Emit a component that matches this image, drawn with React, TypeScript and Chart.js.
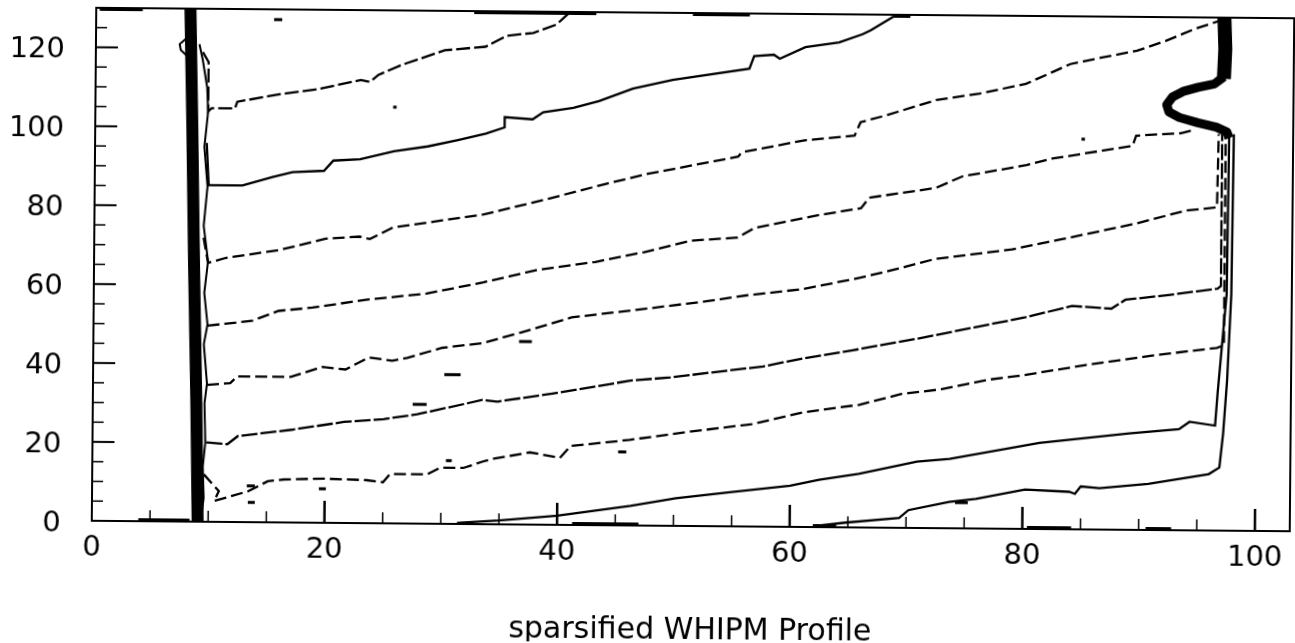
import React, { useEffect, useRef } from "react";
import { Chart, registerables } from "chart.js";

Chart.register(...registerables);

// ---- axis ticks / labels ----
const xTickValues = [0, 20, 40, 60, 80, 100];
const xTickLabels = ["0", "20", "40", "60", "80", "100"];
const yTickValues = [0, 20, 40, 60, 80, 100, 120];
const yTickLabels = ["0", "20", "40", "60", "80", "100", "120"];
const xMinorTicks = [5, 10, 15, 25, 30, 35, 45, 50, 55, 65, 70, 75, 85, 90, 95];
const yMinorTicks = [5, 10, 15, 25, 30, 35, 45, 50, 55, 65, 70, 75, 85, 90, 95, 105, 110, 115, 125];
const xTitle = "sparsified WHIPM Profile";

// ---- contour lines (x, y) ----
const contour1 = [[9.2, 119], [9.7, 116.5], [9.7, 104], [10, 104.8], [12, 104.8], [12.2, 106.5], [16, 108.6], [19, 109.8], [22.8, 112.3], [23.6, 111.8], [24.3, 113.6], [26.3, 116.2], [30, 120], [33.5, 121], [35.3, 123.8], [37.6, 124.6], [39.6, 126.8], [40.6, 129.6]];
const contour2 = [[9.6, 96], [9.8, 85.3], [12.7, 85.3], [15.3, 87.5], [17, 88.8], [19.7, 89.2], [20.5, 91.8], [22.8, 92.2], [25.7, 94.3], [28.6, 95.6], [31.2, 97.3], [33.6, 99], [35.2, 100.6], [35.2, 103.2], [37.6, 102.7], [38.5, 104.5], [41.1, 105.7], [43.3, 107.5], [46.2, 110.7], [49.6, 113], [56.2, 116], [56.6, 119.2], [58.3, 119.6], [58.8, 118.6], [61, 121.6], [63.9, 122.9], [65.9, 125], [66.6, 126], [68.6, 129.6]];
const contour3 = [[9.4, 72], [9.8, 65.6], [11.3, 66.9], [15.9, 69], [19.9, 72], [22.8, 72.6], [23.7, 72], [25.7, 75], [28.6, 76.3], [33.5, 78.5], [39, 82.6], [43.3, 86], [47.3, 89], [55.3, 93.7], [55.6, 94.8], [61, 98], [65.3, 99.3], [65.8, 102.7], [68, 104.5], [72.3, 108.5], [76, 110.2], [80, 112.8], [83.8, 117.9], [86.3, 119.5], [89.5, 121.4], [92, 124], [94.4, 127], [96.6, 129.2]];
const contour4 = [[9.8, 49.7], [13.6, 51], [15.9, 53.6], [18.8, 54.5], [23.4, 56.6], [28.6, 58.3], [33.5, 61.3], [38.2, 64.6], [43.1, 66.7], [47.3, 69.3], [51.3, 72.3], [55.3, 73.2], [56.8, 75.7], [59.6, 77.4], [62.5, 79.2], [65.9, 80.9], [66.6, 83.6], [72.3, 86.2], [74.6, 89.2], [80.1, 92.2], [82.3, 93.9], [89.2, 97.3], [89.5, 99.9], [93.3, 100.6], [94.5, 101.5]];
const contour5 = [[9.8, 34.7], [11.8, 35.2], [12.4, 36.9], [17, 36.9], [19.7, 39.5], [21.7, 38.9], [23.7, 42], [25.7, 41.2], [27, 42], [30, 44.6], [33.5, 45.9], [36.8, 48.7], [41.1, 52.6], [46.8, 54.7], [52.5, 56.9], [56.2, 58.6], [61, 60.3], [65.9, 63.3], [68, 64.8], [72.3, 68.2], [78.9, 70.8], [82.9, 73.3], [89.5, 77.6], [93.8, 81], [96.5, 81.9], [96.6, 100.5]];
const contour6 = [[9.8, 20.1], [11.6, 19.7], [12.5, 21.8], [17.1, 23.5], [21.6, 25.6], [25, 26.4], [27.9, 27.7], [32.2, 30.6], [33.5, 31.5], [34.8, 31.1], [39.6, 33.3], [46.2, 36.7], [49.6, 37.6], [57.6, 40.6], [61, 42.7], [65.3, 44.9], [70.9, 48], [76.6, 51.5], [80.1, 53.6], [84.1, 56.6], [87.5, 56], [88.7, 58.3], [92.4, 59.6], [96.6, 61.3], [96.9, 62], [96.9, 100.5]];
const contour7 = [[9.6, 12], [10.9, 7.8], [10.5, 5.3], [13.4, 7.8], [15.1, 10.4], [16.5, 10.9], [19.9, 11.2], [23.6, 10.9], [25, 10.4], [25.6, 12.5], [28.8, 12.5], [29.9, 14.2], [31.9, 14.2], [33.6, 15.9], [34.5, 16.6], [37.6, 18.3], [40.2, 17], [41.1, 20], [46.2, 21.7], [51.1, 23.8], [56.8, 26], [61, 29], [65.9, 31.1], [69.5, 33.9], [72.9, 35.2], [76.9, 37.7], [80.1, 39], [85.2, 41.6], [91, 44.2], [96.6, 46.3], [97.2, 47], [97.2, 100.5]];
const contour8 = [[31.4, 0.3], [35, 1], [40, 2.3], [46.3, 5], [50.2, 7], [55.2, 8.8], [60, 10.4], [62.5, 12], [65.9, 13.6], [70.9, 16.8], [73.7, 17.6], [81.4, 21.8], [89.1, 24.4], [93.4, 25.6], [94.3, 27.5], [96.5, 26.6], [96.7, 35], [97.4, 60], [97.5, 100.5]];
const contour9 = [[62, 0.2], [64.8, 1.2], [69.4, 2.5], [70.2, 4.5], [73.7, 6.7], [76, 7.5], [80.2, 10], [84, 9.5], [84.5, 9], [85, 10.9], [86.6, 10.5], [90.8, 11.7], [96, 14.3], [96.9, 16], [97.2, 24.7], [97.5, 38], [97.8, 60], [97.9, 100.5]];

// ---- walls ----
const leftWall = [[9.1, 0], [8.9, 30], [8.6, 65], [8.35, 100], [8.1, 130]];
const leftWallEdge = [[9.4, 1], [9.6, 6], [9.5, 14], [9.7, 20], [9.6, 30], [9.8, 35], [9.5, 45], [9.8, 50], [9.5, 58], [9.8, 66], [9.4, 75], [9.7, 85], [9.4, 95], [9.7, 104], [9.6, 110], [9.2, 117], [8.9, 121]];
const leftBump = [[8.2, 117], [7.3, 119.5], [7.2, 121], [7.8, 122.5], [8.1, 124]];
const rightWallTop = [[97.0, 130], [97.1, 122], [97.0, 114.5]];
const rightBulge = [[97.0, 115], [96.2, 113.2], [94.8, 112.3], [93.5, 111.2], [92.6, 109.8], [92.1, 107.8], [92.3, 106], [93.2, 104.6], [94.8, 103.3], [96.4, 102.2], [97.3, 101], [97.5, 99.5]];

// contour pieces hugging the frame
const topEdgeSegments = [[0.3, 4], [32.5, 43], [51.3, 56.2], [68.6, 70]];
const topEdgeY = 129.6;
const bottomEdgeSegments = [[4, 8.4], [41.3, 47], [62, 64], [80.4, 84.2], [90.6, 92.8]];
const bottomEdgeY = 0.4;

// small isolated contour fragments: [xStart, xEnd, y]
const specks = [[15.3, 16.0, 127.4], [25.6, 25.9, 105.5], [30.2, 31.6, 37.8], [27.5, 28.7, 30.2], [30.4, 30.9, 16], [13.3, 14.0, 9.2], [13.4, 14.0, 5], [19.5, 20.1, 8.6], [45.2, 45.9, 18.6], [74.2, 75.3, 6.5], [36.6, 37.7, 46.4], [84.8, 85.1, 98.9]];

const contours = [contour1, contour2, contour3, contour4, contour5, contour6, contour7, contour8, contour9];
const contourDashes = [[14, 4], [], [12, 5], [12, 5], [12, 5], [16, 3], [12, 5], [], []];

const innerTicks = {
  id: "innerTicks",
  afterDraw(chart: any) {
    const { ctx, chartArea: a, scales } = chart;
    const x = scales.x;
    const y = scales.y;
    ctx.save();
    ctx.strokeStyle = "#000";
    const seg = (x1: number, y1: number, x2: number, y2: number, w: number) => {
      ctx.lineWidth = w;
      ctx.beginPath();
      ctx.moveTo(x1, y1);
      ctx.lineTo(x2, y2);
      ctx.stroke();
    };
    xTickValues.forEach((v) => {
      if (v === 0) return;
      const p = x.getPixelForValue(v);
      seg(p, a.bottom, p, a.bottom - 22, 2.5);
    });
    xMinorTicks.forEach((v) => {
      const p = x.getPixelForValue(v);
      seg(p, a.bottom, p, a.bottom - 11, 1.5);
    });
    yTickValues.forEach((v) => {
      if (v === 0) return;
      const p = y.getPixelForValue(v);
      seg(a.left, p, a.left + 22, p, 2);
    });
    yMinorTicks.forEach((v) => {
      const p = y.getPixelForValue(v);
      seg(a.left, p, a.left + 11, p, 1.5);
    });
    // frame top & right
    seg(a.left, a.top, a.right + 1, a.top, 2);
    seg(a.right, a.top, a.right, a.bottom, 2);
    ctx.restore();
  },
};

export default function App() {
  const ref = useRef<HTMLCanvasElement>(null);

  useEffect(() => {
    if (!ref.current) return;
    const toPts = (arr: number[][]) => arr.map(([px, py]) => ({ x: px, y: py }));
    const segPts = (segs: number[][], yy: number) => {
      const out: any[] = [];
      segs.forEach(([a, b]) => {
        out.push({ x: a, y: yy }, { x: b, y: yy }, { x: b, y: null });
      });
      return out;
    };
    const speckPts = (list: number[][]) => {
      const out: any[] = [];
      list.forEach(([a, b, yy]) => {
        out.push({ x: a, y: yy }, { x: b, y: yy }, { x: b, y: null });
      });
      return out;
    };
    const ds = (data: any[], width: number, dash: number[] = [], join = "miter") => ({
      data,
      borderColor: "#000",
      backgroundColor: "#000",
      borderWidth: width,
      borderDash: dash,
      borderJoinStyle: join,
      borderCapStyle: "butt",
      pointRadius: 0,
      pointHoverRadius: 0,
      showLine: true,
      fill: false,
      tension: 0,
      spanGaps: false,
    });

    const datasets: any[] = [
      ds(toPts(leftWall), 12, [], "round"),
      ds(toPts(leftWallEdge), 2),
      ds(toPts(leftBump), 2),
      ds(toPts(rightWallTop), 14, [], "round"),
      ds(toPts(rightBulge), 9, [], "round"),
      ds(segPts(topEdgeSegments, topEdgeY), 3),
      ds(segPts(bottomEdgeSegments, bottomEdgeY), 3),
      ds(speckPts(specks), 3),
      ...contours.map((c, i) => ds(toPts(c), 2.3, contourDashes[i])),
    ];

    const tickFont = { family: "DejaVu Sans", size: 29 };

    const chart = new Chart(ref.current, {
      type: "scatter",
      data: { datasets },
      options: {
        animation: false,
        responsive: false,
        devicePixelRatio: 1,
        events: [],
        layout: { padding: { top: 13, right: 3, left: 0, bottom: 0 } },
        plugins: { legend: { display: false }, tooltip: { enabled: false }, title: { display: false } },
        scales: {
          x: {
            type: "linear",
            position: "bottom",
            min: 0,
            max: 103,
            afterBuildTicks: (s: any) => {
              s.ticks = xTickValues.map((v) => ({ value: v }));
            },
            afterFit: (s: any) => {
              s.height = 117;
              s.paddingLeft = 0;
              s.paddingRight = 0;
              s.paddingTop = 0;
              s.paddingBottom = 0;
            },
            grid: { display: false, drawTicks: false },
            border: { display: true, color: "#000", width: 2 },
            ticks: {
              color: "#000",
              font: tickFont,
              padding: 10,
              maxRotation: 0,
              autoSkip: false,
              callback: (v: any) => xTickLabels[xTickValues.indexOf(Number(v))] ?? "",
            },
            title: {
              display: true,
              text: xTitle,
              color: "#000",
              font: { family: "DejaVu Sans", size: 30, lineHeight: 0.77 },
              padding: 0,
            },
          },
          y: {
            type: "linear",
            position: "left",
            min: 0,
            max: 130,
            afterBuildTicks: (s: any) => {
              s.ticks = yTickValues.map((v) => ({ value: v }));
            },
            afterFit: (s: any) => {
              s.width = 94;
              s.paddingLeft = 0;
              s.paddingRight = 0;
              s.paddingTop = 0;
              s.paddingBottom = 0;
            },
            grid: { display: false, drawTicks: false },
            border: { display: true, color: "#000", width: 2 },
            ticks: {
              color: "#000",
              font: tickFont,
              padding: 31,
              labelOffset: 3,
              autoSkip: false,
              callback: (v: any) => yTickLabels[yTickValues.indexOf(Number(v))] ?? "",
            },
          },
        },
      } as any,
      plugins: [innerTicks],
    });
    return () => chart.destroy();
  }, []);

  return (
    <div
      style={{
        position: "absolute",
        left: 0,
        top: 0,
        width: 1295,
        height: 643,
        background: "#fff",
        transform: "rotate(0.5deg)",
        transformOrigin: "691px 270px",
      }}
    >
      <canvas ref={ref} width={1295} height={643} style={{ display: "block", width: 1295, height: 643 }} />
    </div>
  );
}
